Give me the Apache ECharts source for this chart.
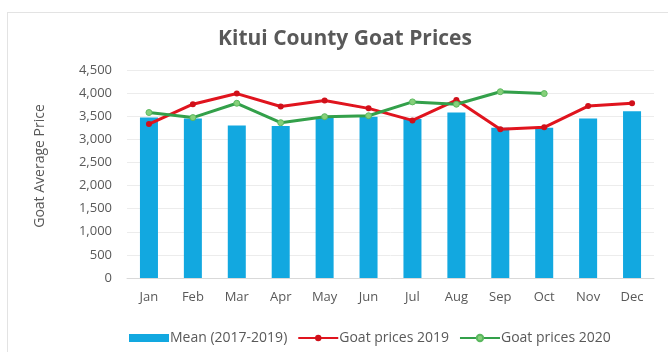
<!DOCTYPE html>
<html>
<head>
<meta charset="utf-8">
<title>Kitui County Goat Prices</title>
<script src="https://cdn.jsdelivr.net/npm/echarts@6/dist/echarts.min.js"></script>
<style>
  html, body { margin: 0; padding: 0; background: #ffffff; }
  #frame { position: absolute; left: 7px; top: 12px; width: 680px; height: 360px; border: 1px solid #e3e3e3; box-sizing: border-box; }
  #chart { width: 668px; height: 352px; position: absolute; left: 0; top: 0; }
</style>
</head>
<body>
<div id="frame"></div>
<div id="chart"></div>
<script>
// Monthly goat prices, Kitui County
const months = ['Jan', 'Feb', 'Mar', 'Apr', 'May', 'Jun', 'Jul', 'Aug', 'Sep', 'Oct', 'Nov', 'Dec'];
const mean2017to2019 = [3470, 3450, 3300, 3290, 3460, 3490, 3440, 3580, 3250, 3250, 3450, 3610];
const prices2019 = [3330, 3760, 3990, 3710, 3840, 3670, 3410, 3850, 3220, 3260, 3720, 3780];
const prices2020 = [3580, 3470, 3780, 3360, 3490, 3510, 3810, 3760, 4030, 3990];
const yTicks = { min: 0, max: 4500, step: 500 };

const grey = '#595959';
const chart = echarts.init(document.getElementById('chart'), null, { renderer: 'canvas' });

chart.setOption({
  animation: false,
  backgroundColor: 'transparent',
  title: {
    text: 'Kitui County Goat Prices',
    left: 340,
    top: 24,
    textAlign: 'center',
    textStyle: { fontFamily: 'Open Sans', fontWeight: 'bold', fontSize: 21, color: grey }
  },
  legend: {
    top: 326,
    left: 124,
    itemGap: 10,
    itemWidth: 40,
    itemHeight: 8,
    textStyle: { fontFamily: 'Open Sans', fontSize: 14, color: grey, padding: [0, 0, 0, -4] },
    data: [
      { name: 'Mean (2017-2019)', icon: 'rect' },
      { name: 'Goat prices 2019' },
      { name: 'Goat prices 2020' }
    ]
  },
  grid: { left: 127, right: 14, top: 70, bottom: 74 },
  xAxis: {
    type: 'category',
    data: months,
    axisLine: { lineStyle: { color: '#d9d9d9' } },
    axisTick: { show: false },
    axisLabel: { color: grey, fontFamily: 'Open Sans', fontSize: 13, margin: 13 }
  },
  yAxis: {
    type: 'value',
    min: yTicks.min,
    max: yTicks.max,
    interval: yTicks.step,
    name: 'Goat Average Price',
    nameLocation: 'middle',
    nameGap: 80,
    nameTextStyle: { color: grey, fontFamily: 'Open Sans', fontSize: 14, padding: [0, 0, 0, 16] },
    axisLine: { show: false },
    axisTick: { show: false },
    splitLine: { lineStyle: { color: '#ececec' } },
    axisLabel: {
      color: grey, fontFamily: 'Open Sans', fontSize: 13, margin: 15,
      formatter: v => v.toLocaleString('en-US')
    }
  },
  series: [
    {
      name: 'Mean (2017-2019)',
      type: 'bar',
      data: mean2017to2019,
      barWidth: '41%',
      itemStyle: { color: '#12A8E0' }
    },
    {
      name: 'Goat prices 2019',
      type: 'line',
      data: prices2019,
      symbol: 'circle',
      symbolSize: 6,
      lineStyle: { color: '#E0141E', width: 3 },
      itemStyle: { color: '#D0101A' }
    },
    {
      name: 'Goat prices 2020',
      type: 'line',
      data: prices2020,
      symbol: 'circle',
      symbolSize: 6,
      lineStyle: { color: '#33A04A', width: 3 },
      itemStyle: { color: '#86D07A', borderColor: '#5BB85F', borderWidth: 1 }
    }
  ]
});
</script>
</body>
</html>
